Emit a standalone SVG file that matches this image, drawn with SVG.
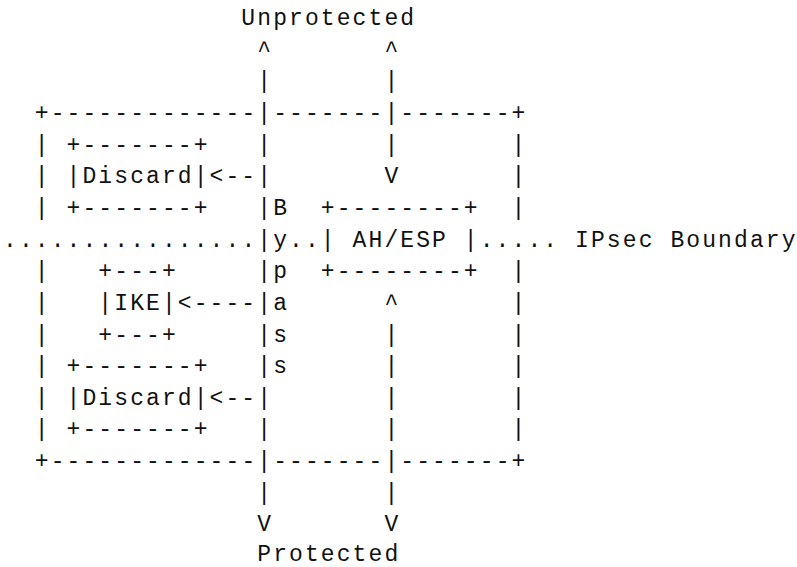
<svg xmlns="http://www.w3.org/2000/svg" width="797" height="567" viewBox="0 0 797 567">
<style>
text { font-family: "Liberation Mono", "Courier New", monospace; font-size: 23px; letter-spacing: 2.09px; fill: #111; white-space: pre; }
</style>
<rect width="797" height="567" fill="#fff"/>
<g transform="translate(1.04 0)">
<g id="labels">
<text x="240.34" y="25">Unprotected</text>
<text x="256.23" y="561">Protected</text>
</g>
<g id="boundary">
<text x="33.77" y="119.95">+-------------</text>
<text x="272.12" y="119.95">-------</text>
<text x="399.24" y="119.95">-------+</text>
<text x="33.77" y="468.1">+-------------</text>
<text x="272.12" y="468.1">-------</text>
<text x="399.24" y="468.1">-------+</text>
<text x="33.77" y="151.6">|</text><text x="510.47" y="151.6">|</text>
<text x="33.77" y="183.25">|</text><text x="510.47" y="183.25">|</text>
<text x="33.77" y="214.9">|</text><text x="510.47" y="214.9">|</text>
<text x="33.77" y="278.2">|</text><text x="510.47" y="278.2">|</text>
<text x="33.77" y="309.85">|</text><text x="510.47" y="309.85">|</text>
<text x="33.77" y="341.5">|</text><text x="510.47" y="341.5">|</text>
<text x="33.77" y="373.15">|</text><text x="510.47" y="373.15">|</text>
<text x="33.77" y="404.8">|</text><text x="510.47" y="404.8">|</text>
<text x="33.77" y="436.45">|</text><text x="510.47" y="436.45">|</text>
</g>
<g id="ipsec-boundary">
<text x="1.99" y="246.55">................</text>
<text x="288.01" y="246.55">..</text>
<text x="478.69" y="246.55">..... IPsec Boundary</text>
</g>
<g id="discard-top">
<text x="65.55" y="151.6">+-------+</text>
<text x="65.55" y="183.25">|Discard|</text>
<text x="65.55" y="214.9">+-------+</text>
</g>
<g id="ike">
<text x="97.33" y="278.2">+---+</text>
<text x="97.33" y="309.85">|IKE|</text>
<text x="97.33" y="341.5">+---+</text>
</g>
<g id="discard-bottom">
<text x="65.55" y="373.15">+-------+</text>
<text x="65.55" y="404.8">|Discard|</text>
<text x="65.55" y="436.45">+-------+</text>
</g>
<g id="ah-esp">
<text x="319.79" y="214.9">+--------+</text>
<text x="319.79" y="246.55">| AH/ESP |</text>
<text x="319.79" y="278.2">+--------+</text>
</g>
<g id="bypass">
<text x="272.12" y="214.9">B</text>
<text x="272.12" y="246.55">y</text>
<text x="272.12" y="278.2">p</text>
<text x="272.12" y="309.85">a</text>
<text x="272.12" y="341.5">s</text>
<text x="272.12" y="373.15">s</text>
</g>
<g id="connectors">
<text x="256.23" y="56.65">^</text>
<text x="256.23" y="88.3">|</text>
<text x="256.23" y="119.95">|</text>
<text x="256.23" y="151.6">|</text>
<text x="256.23" y="183.25">|</text>
<text x="256.23" y="214.9">|</text>
<text x="256.23" y="246.55">|</text>
<text x="256.23" y="278.2">|</text>
<text x="256.23" y="309.85">|</text>
<text x="256.23" y="341.5">|</text>
<text x="256.23" y="373.15">|</text>
<text x="256.23" y="404.8">|</text>
<text x="256.23" y="436.45">|</text>
<text x="256.23" y="468.1">|</text>
<text x="256.23" y="499.75">|</text>
<text x="256.23" y="531.4">V</text>
<text x="383.35" y="56.65">^</text>
<text x="383.35" y="88.3">|</text>
<text x="383.35" y="119.95">|</text>
<text x="383.35" y="151.6">|</text>
<text x="383.35" y="183.25">V</text>
<text x="383.35" y="309.85">^</text>
<text x="383.35" y="341.5">|</text>
<text x="383.35" y="373.15">|</text>
<text x="383.35" y="404.8">|</text>
<text x="383.35" y="436.45">|</text>
<text x="383.35" y="468.1">|</text>
<text x="383.35" y="499.75">|</text>
<text x="383.35" y="531.4">V</text>
<text x="208.56" y="183.25">&lt;--</text>
<text x="176.78" y="309.85">&lt;----</text>
<text x="208.56" y="404.8">&lt;--</text>
</g>
</g>
</svg>
